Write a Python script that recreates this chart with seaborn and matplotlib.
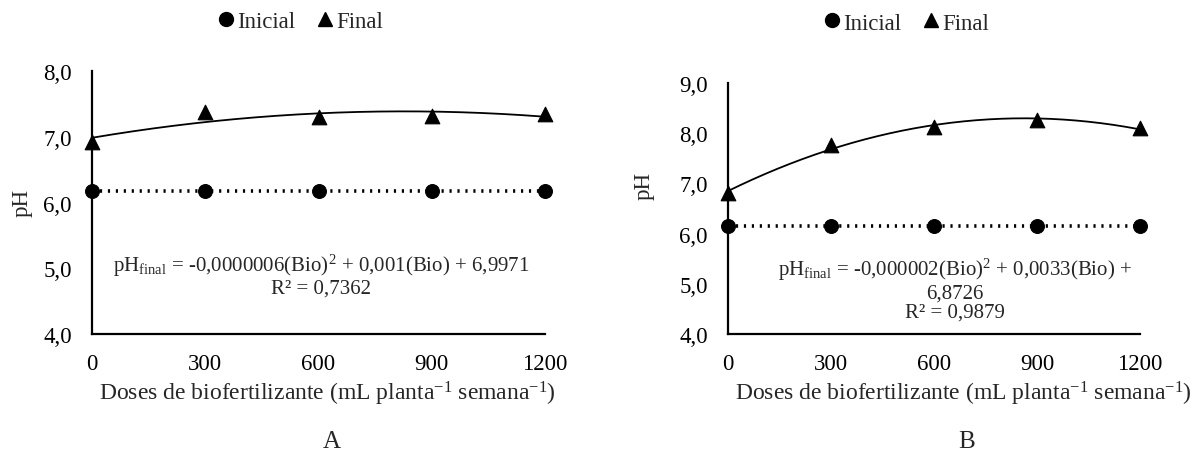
import numpy as np
import pandas as pd
import matplotlib
matplotlib.use("Agg")
import matplotlib.pyplot as plt
from matplotlib.lines import Line2D
from matplotlib.ticker import FuncFormatter
import seaborn as sns

doses = [0, 300, 600, 900, 1200]
a_inicial = [6.17, 6.17, 6.17, 6.17, 6.17]
a_final = [6.92, 7.37, 7.30, 7.31, 7.35]
b_inicial = [6.16, 6.16, 6.16, 6.16, 6.16]
b_final = [6.81, 7.77, 8.12, 8.26, 8.10]
a_eq = "pH$_{\\mathregular{final}}$ = -0,0000006(Bio)$^{\\mathregular{2}}$ + 0,001(Bio) + 6,9971\nR² = 0,7362"
b_eq = "pH$_{\\mathregular{final}}$ = -0,000002(Bio)$^{\\mathregular{2}}$ + 0,0033(Bio) +\n6,8726\nR² = 0,9879"
xlabel = "Doses de biofertilizante (mL planta$^{\\mathregular{-1}}$ semana$^{\\mathregular{-1}}$)"

sns.set_theme(style="white")
plt.rcParams["font.family"] = ["Liberation Serif", "DejaVu Serif"]
plt.rcParams["mathtext.fontset"] = "custom"
plt.rcParams["mathtext.rm"] = "Liberation Serif"
plt.rcParams["mathtext.it"] = "Liberation Serif:italic"

W, H = 1200, 456
fig = plt.figure(figsize=(12, 4.56), dpi=100)

def axes_px(l, r, t, b):
    return fig.add_axes([l / W, 1 - b / H, (r - l) / W, (b - t) / H])

panels = [
    dict(box=(92, 545, 72, 335), ini=a_inicial, fin=a_final, ylim=(4, 8), eq=a_eq,
         eqpos=(321, 276), leg=(299, 22), ylab=(22, 203), letter="A", lx=332, xl=327),
    dict(box=(728, 1140, 84, 335), ini=b_inicial, fin=b_final, ylim=(4, 9), eq=b_eq,
         eqpos=(955, 290), leg=(905, 24), ylab=(644, 186), letter="B", lx=967, xl=963),
]

fmt = FuncFormatter(lambda v, p: f"{v:.1f}".replace(".", ","))

for p in panels:
    l, r, t, b = p["box"]
    ax = axes_px(l, r, t, b)
    df = pd.DataFrame({"dose": doses, "ini": p["ini"], "fin": p["fin"]})
    coef = np.polyfit(df["dose"], df["fin"], 2)
    xs = np.linspace(0, 1200, 200)
    trend = pd.DataFrame({"x": xs, "y": np.polyval(coef, xs)})
    sns.lineplot(data=trend, x="x", y="y", ax=ax, color="black", lw=1.3, clip_on=False)
    sns.lineplot(data=df, x="dose", y="ini", ax=ax, color="black", lw=2.6,
                 linestyle=(0, (0.6, 1.6)), marker="o", markersize=10,
                 markeredgecolor="black", clip_on=False)
    sns.scatterplot(data=df, x="dose", y="fin", ax=ax, color="black", marker="^",
                    s=110, edgecolor="black", clip_on=False, zorder=5)
    ax.set_xlim(0, 1200)
    ax.set_ylim(*p["ylim"])
    ax.set_xticks(doses)
    ax.set_yticks(np.arange(p["ylim"][0], p["ylim"][1] + 0.5, 1.0))
    ax.yaxis.set_major_formatter(fmt)
    ax.tick_params(axis="both", length=0, labelsize=16.5, colors="black")
    ax.tick_params(axis="y", pad=14.5)
    ax.tick_params(axis="x", pad=14)
    for s in ["top", "right"]:
        ax.spines[s].set_visible(False)
    for s in ["left", "bottom"]:
        ax.spines[s].set_color("black")
        ax.spines[s].set_linewidth(1.6)
    ax.set_xlabel("")
    ax.set_ylabel("")
    ax.grid(False)
    fig.text(p["ylab"][0] / W, 1 - p["ylab"][1] / H, "pH", rotation=90, ha="center",
             va="center", fontsize=16.5)
    fig.text(p["xl"] / W, 1 - 394 / H, xlabel, ha="center", va="center", fontsize=17)
    fig.text(p["lx"] / W, 1 - 442 / H, p["letter"], ha="center", va="center", fontsize=18)
    fig.text(p["eqpos"][0] / W, 1 - p["eqpos"][1] / H, p["eq"], ha="center", va="center",
             fontsize=15, linespacing=1.05)
    handles = [Line2D([], [], color="black", marker="o", linestyle="none", markersize=10),
               Line2D([], [], color="black", marker="^", linestyle="none", markersize=10)]
    fig.legend(handles, ["Inicial", "Final"], loc="center",
               bbox_to_anchor=(p["leg"][0] / W, 1 - p["leg"][1] / H), ncol=2, frameon=False,
               fontsize=16.5, handletextpad=0.0, columnspacing=0.8, handlelength=1.0)

fig.savefig("out.png", dpi=100, facecolor="white")
